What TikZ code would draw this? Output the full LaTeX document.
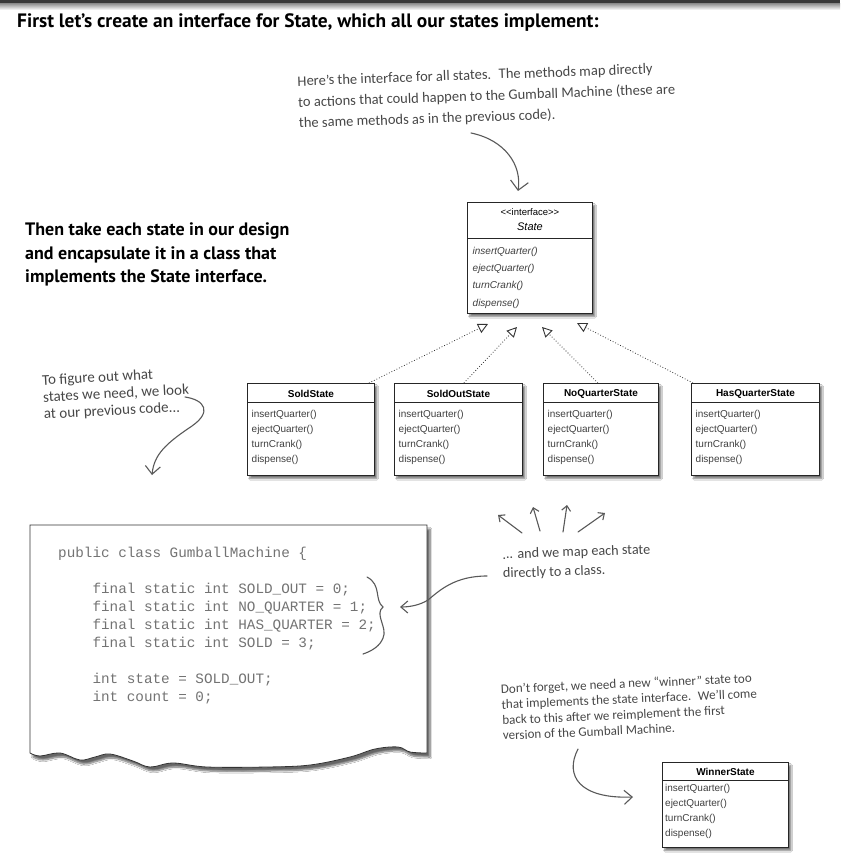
\documentclass[tikz,border=0pt]{standalone}
\usepackage{fontspec}
\usetikzlibrary{arrows.meta,shadows.blur}
\newfontfamily\headfont{PT Sans}
\newfontfamily\handfont{Carlito}
\newfontfamily\umlfont{Liberation Sans}
\newfontfamily\codefont{Liberation Mono}

\tikzset{
  classbox/.style={draw=black!85, fill=white, line width=0.9pt, inner sep=0pt,
    blur shadow={shadow xshift=2.5pt, shadow yshift=-3pt, shadow blur steps=6, shadow opacity=55}},
  classrule/.style={draw=black!85, line width=0.8pt},
  classname/.style={font=\umlfont\fontsize{10}{12}\selectfont\bfseries, inner sep=0pt},
  ops/.style={font=\umlfont\fontsize{10}{14.7}\selectfont, text=black!75, align=left, inner sep=0pt, anchor=base west},
  heading/.style={font=\headfont\fontsize{18}{23}\selectfont\bfseries, align=left, inner sep=0pt, anchor=base west},
  note/.style={font=\handfont\fontsize{14.5}{21}\selectfont, text=black!72, align=left, inner sep=0pt, anchor=base west},
  codetext/.style={font=\codefont\fontsize{14.3}{18}\selectfont, text=black!55, align=left, inner sep=0pt, anchor=base west},
  handarrow/.style={draw=black!65, line width=1.1pt, line cap=round, -{Straight Barb[length=7pt,width=13pt]}},
  realizes/.style={draw=black!80, line width=0.8pt, dotted, -{Triangle[open,length=10pt,width=10pt,line width=0.9pt]}},
}

\begin{document}
\begin{tikzpicture}[x=1pt,y=-1pt]
  \fill[white] (0,0) rectangle (840,866);
  \useasboundingbox (0,0) rectangle (840,866);
  % top bar
  \fill[black!78] (0,0) rectangle (840,4);
  \shade[top color=black!40, bottom color=white] (0,4) rectangle (840,10);

  \node[heading, font=\headfont\fontsize{19.4}{23}\selectfont\bfseries] (title) at (17,28) {First let’s create an interface for State, which all our states implement:};
  \node[heading] (design) at (25,282) {Then take each state in our design\\and encapsulate it in a class that\\implements the State interface.};

  % the interface
  \node[classbox, minimum width=125pt, minimum height=111pt, anchor=north west] (state) at (467,202) {};
  \draw[classrule] ([yshift=-36pt]state.north west) -- ([yshift=-36pt]state.north east);
  \node[font=\umlfont\fontsize{9.5}{11}\selectfont, inner sep=0pt] (state-stereo) at ([yshift=-10pt]state.north) {<{}<interface>{}>};
  \node[font=\umlfont\fontsize{11}{13}\selectfont\itshape, inner sep=0pt] (state-name) at ([yshift=-25pt]state.north) {State};
  \node[ops, font=\umlfont\fontsize{10}{17.3}\selectfont\itshape] (state-ops) at ([xshift=5.5pt,yshift=-104pt]state.north west)
    {insertQuarter()\\ejectQuarter()\\turnCrank()\\dispense()};

  % the state classes
  \foreach \nm/\cx/\w/\ttl in {sold/247/127/SoldState, soldout/394/128/SoldOutState,
      noquarter/543/115/NoQuarterState, hasquarter/691/128/HasQuarterState}{
    \node[classbox, minimum width=\w pt, minimum height=92pt, anchor=north west] (\nm) at (\cx,383) {};
    \draw[classrule] ([yshift=-19pt]\nm.north west) -- ([yshift=-19pt]\nm.north east);
    \node[classname] (\nm-name) at ([yshift=-10.5pt]\nm.north) {\ttl};
    \node[ops] (\nm-ops) at ([xshift=4.5pt,yshift=-79pt]\nm.north west)
      {insertQuarter()\\ejectQuarter()\\turnCrank()\\dispense()};
  }

  \coordinate (t1) at (488,324);
  \coordinate (t2) at (517,327);
  \coordinate (t3) at (542,327);
  \coordinate (t4) at (577,323);
  \draw[realizes] ([xshift=-6pt]sold.north east) -- (t1);
  \draw[realizes] ([xshift=-59pt]soldout.north east) -- (t2);
  \draw[realizes] ([xshift=-61pt]noquarter.north east) -- (t3);
  \draw[realizes] ([xshift=2pt]hasquarter.north west) -- (t4);

  \node[classbox, minimum width=126pt, minimum height=85pt, anchor=north west] (winner) at (662,762) {};
  \draw[classrule] ([yshift=-18pt]winner.north west) -- ([yshift=-18pt]winner.north east);
  \node[classname] (winner-name) at ([yshift=-10pt]winner.north) {WinnerState};
  \node[ops] (winner-ops) at ([xshift=3pt,yshift=-74pt]winner.north west)
    {insertQuarter()\\ejectQuarter()\\turnCrank()\\dispense()};

  % the old code, torn off at the bottom
  \filldraw[draw=black!80, line width=0.8pt, fill=white,
      blur shadow={shadow xshift=3pt, shadow yshift=-4pt, shadow blur steps=8, shadow opacity=60}]
    (30,525) -- (427,525) -- plot[smooth, tension=0.6] coordinates {(427,753) (410,752) (398,747) (375,749)
      (350,757) (310,765) (267,767) (207,767) (173,763) (150,767) (133,761) (110,754) (95,757) (80,760)
      (60,753) (40,756) (30,753)} -- cycle;
  \node[codetext] (gumball) at (58,701) {public class GumballMachine \{\\[18pt]
    \hspace*{2.4em}final static int SOLD\_OUT = 0;\\
    \hspace*{2.4em}final static int NO\_QUARTER = 1;\\
    \hspace*{2.4em}final static int HAS\_QUARTER = 2;\\
    \hspace*{2.4em}final static int SOLD = 3;\\[18pt]
    \hspace*{2.4em}int state = SOLD\_OUT;\\
    \hspace*{2.4em}int count = 0;};

  % handwritten notes
  \node[note, rotate=2] (topnote) at (299,128) {Here’s the interface for all states.~ The methods map directly\\to actions that could happen to the Gumball Machine (these are\\the same methods as in the previous code).};
  \node[note, font=\handfont\fontsize{15}{17}\selectfont, rotate=3] (fignote) at (44,419) {To figure out what\\states we need, we look\\at our previous code...};
  \node[note, font=\handfont\fontsize{14.2}{19}\selectfont, rotate=2] (mapnote) at (503,578) {... and we map each state\\directly to a class.};
  \node[note, font=\handfont\fontsize{13}{15.5}\selectfont, rotate=2.5] (winnote) at (503,740) {Don’t forget, we need a new “winner” state too\\that implements the state interface.~ We’ll come\\back to this after we reimplement the first\\version of the Gumball Machine.};

  \coordinate (top-tail) at (471,133);
  \coordinate (top-head) at (518,191);
  \draw[handarrow, -{Straight Barb[length=9pt,width=18pt]}] (top-tail) .. controls (505,140) and (522,165) .. (top-head);

  \coordinate (fig-tail) at (185,397);
  \coordinate (fig-head) at (152,475);
  \draw[handarrow, -{Straight Barb[length=8pt,width=15pt]}] (fig-tail) .. controls (205,400) and (212,412) .. (192,426) .. controls (165,444) and (154,455) .. (fig-head);

  % brace round the constants
  \coordinate (brace-top) at (367,577);
  \coordinate (brace-tip) at (383,607);
  \coordinate (brace-bot) at (363,654);
  \draw[draw=black!65, line width=1.1pt, line cap=round] (brace-top) .. controls (382,585) and (374,600) .. (brace-tip)
    .. controls (374,614) and (388,628) .. (383,638) .. controls (380,646) and (372,651) .. (brace-bot);

  \coordinate (map-tail) at (487,576);
  \coordinate (map-head) at (400,607);
  \draw[handarrow, -{Straight Barb[length=7pt,width=12pt]}] (map-tail) .. controls (455,576) and (440,590) .. (428,600) .. controls (420,605) and (410,607) .. (map-head);

  % little arrows up to the classes
  \foreach \i/\sx/\sy/\ex/\ey in {1/522/533/498/515, 2/540/531/533/507, 3/563/532/567/505, 4/578/532/605/513}{
    \coordinate (up\i-tail) at (\sx,\sy);
    \coordinate (up\i-head) at (\ex,\ey);
    \draw[handarrow, -{Straight Barb[length=5pt,width=9pt]}] (up\i-tail) -- (up\i-head);
  }

  \coordinate (win-tail) at (578,749);
  \coordinate (win-head) at (633,797);
  \draw[handarrow, -{Straight Barb[length=8pt,width=14pt]}] (win-tail) .. controls (564,776) and (580,799) .. (win-head);
\end{tikzpicture}
\end{document}
